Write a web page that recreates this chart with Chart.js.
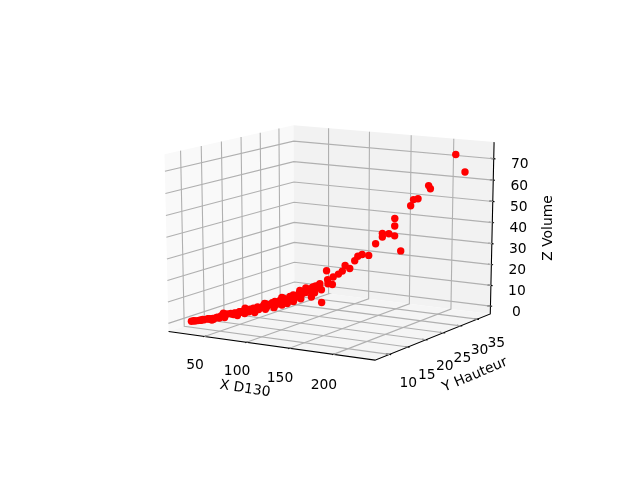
<!DOCTYPE html>
<html>
<head>
<meta charset="utf-8">
<style>body{margin:0;background:#fff}canvas{display:block}</style>
<script src="https://cdn.jsdelivr.net/npm/chart.js@4"></script>
</head>
<body>
<canvas id="chart-area" width="640" height="480"></canvas>
<script>
// values
var d130 = [27.5,28.4,30.2,31.1,32.8,33.8,34.7,36.4,37.3,39.1,40,41.7,42.6,43.5,45.3,46.1,47,48,49.7,50.6,51.5,53.3,54.2,55,56.8,57.7,58.6,60.3,61.2,62.2,63.9,64.8,66.6,67.5,68.4,70.1,71,71.9,73.7,74.5,75.4,77.2,78.1,79.8,80.8,81.7,83.4,84.3,86.1,87,87.8,89.6,90.5,92.3,93.2,94,95.9,96.7,98.5,99.3,100.3,102.2,103.2,105.1,106.1,108,109,111,112.9,113.9,115.8,
	216.2,222.9,196.1,197.4,188.4,185.2,183.2,171.4,171.4,162,167.1,171.4,162,157.5,175.8,152.4,147.2,144.3,141.9,134.9,138.2,132.9,121.2,117.5,129.6,126,122.4,116.3,111.3,110.2,104,
	40.4,58.8,65.2,72.5,79.8,86.3,92.7,96.3,100,105,90.8,77.1,63.4,49.6,108,103,118,122,125,112];
var hauteur = [7.6,8,7.9,8.4,8.6,9.1,8.5,8.9,9.6,9.8,9.4,10,10.7,9.8,10.5,11.2,10.5,11.5,11.3,11.7,10.9,12.1,11.9,12.4,12.5,12,12.8,13,12.6,13.3,13.5,12.9,13.8,14,13.5,14.3,14.2,14.7,14.6,14.9,14.5,15.4,15.7,15.6,16,15.2,16.3,16.5,16.4,16.9,16.3,17.1,17.6,17.4,18,17.4,18.2,18.6,18.5,19.05,18.4,19.24,19.82,19.72,20.1,20.3,20.68,20.8,21.25,21,21.6,
	35.5,36.6,32.8,33,31.7,31.2,30.9,29.3,29.3,28.1,28.7,29.3,28.1,27.3,30,26.6,26,25.5,25.2,24.2,24.7,23.9,22.3,21.8,23.6,23,22.4,21.6,20.9,20.7,19.9,
	10,12.6,13.1,14.1,15.3,16.1,16.8,17.4,18.2,19.05,17.2,15.7,13.6,11,19.72,19.24,21.64,22.4,23,21.16];
var volume = [1.2,1.3,1.3,1.2,1.3,1.4,1.5,1.5,1.6,1.6,1.7,1.8,1.8,1.6,2.2,2.5,1.9,2.7,2.8,3.2,2.1,3.2,3.5,2.8,3.5,3.8,3.3,4,4.3,3.5,4.3,4.6,4.1,4.9,4.1,5.3,4.8,4.9,5.9,5.3,4.9,6.4,5.8,6.9,6.4,5.9,7.4,6.5,8,7.5,6.6,8.5,7.7,9.1,8.4,7.7,9.8,9,10.4,9.8,8.8,11,10.4,11.8,11,12.6,11.6,13.2,12.8,14,14.2,
	72.4,64,58.4,56.9,52.5,52.2,49.4,43.8,40.2,37,36.7,35.6,35.3,32.3,28.3,27,27.5,26.8,24.8,22.8,21.2,20.2,20.7,5.8,18.8,17.6,14.6,14.8,13.4,8.7,11.3,
	.9,2.4,3.3,3.5,4.7,5.3,6.4,7,7.6,8.6,9.7,7.1,5.4,4,13.5,12.4,12,16.5,14,10.5];
var xTicks = [50,100,150,200];
var yTicks = [10,15,20,25,30,35];
var zTicks = [0,10,20,30,40,50,60,70];
var xLim = [6.4,246.4];
var yLim = [6.2,39];
var zLim = [-3.8,77.7];

// view of the 3d box
var elev = 14 * Math.PI / 180;
var azim = -59 * Math.PI / 180;
var dist = 10;
var n = [Math.cos(azim) * Math.cos(elev), Math.sin(azim) * Math.cos(elev), Math.sin(elev)];
var u = [-Math.sin(azim), Math.cos(azim), 0];
var v = [-n[2] * u[1], n[2] * u[0], n[0] * u[1] - n[1] * u[0]];

function project(x, y, z) {
	var q = [(x - xLim[0]) / (xLim[1] - xLim[0]) - .5, (y - yLim[0]) / (yLim[1] - yLim[0]) - .5, (z - zLim[0]) / (zLim[1] - zLim[0]) - .5];
	var w = dist - (n[0] * q[0] + n[1] * q[1] + n[2] * q[2]);
	return {
		x: (u[0] * q[0] + u[1] * q[1]) / w,
		y: (v[0] * q[0] + v[1] * q[1] + v[2] * q[2]) / w
	};
}

function line3d(points, color, width) {
	return {
		data: points.map(function (p) { return project(p[0], p[1], p[2]); }),
		showLine: true,
		borderColor: color,
		borderWidth: width,
		pointRadius: 0,
		fill: false
	};
}

var x0 = xLim[0], x1 = xLim[1], y0 = yLim[0], y1 = yLim[1], z0 = zLim[0], z1 = zLim[1];
var dx = (x1 - x0) / 12, dy = (y1 - y0) / 12;
var grid = '#b0b0b0';
var datasets = [];

// points go first so they are on top
datasets.push({
	data: d130.map(function (d, i) { return project(d, hauteur[i], volume[i]); }),
	backgroundColor: '#ff0000',
	borderWidth: 0,
	pointRadius: 3.7,
	pointHoverRadius: 3.7
});
xTicks.forEach(function (t) {
	datasets.push(line3d([[t, y0, z0], [t, y1, z0], [t, y1, z1]], grid, 1.1));
	datasets.push(line3d([[t, y0 - dy * .1, z0], [t, y0 + dy * .2, z0]], '#000', 1.1));
});
yTicks.forEach(function (t) {
	datasets.push(line3d([[x1, t, z0], [x0, t, z0], [x0, t, z1]], grid, 1.1));
	datasets.push(line3d([[x1 + dx * .1, t, z0], [x1 - dx * .2, t, z0]], '#000', 1.1));
});
zTicks.forEach(function (t) {
	datasets.push(line3d([[x1, y1, t], [x0, y1, t], [x0, y0, t]], grid, 1.1));
	datasets.push(line3d([[x1 + dx * .1, y1, t], [x1 - dx * .2, y1, t]], '#000', 1.1));
});
datasets.push(line3d([[x0, y0, z0], [x1, y0, z0], [x1, y1, z0], [x1, y1, z1]], '#000', 1.1));
datasets.forEach(function (d, i) { d.order = i === 0 ? 0 : 1; });

var boxPlugin = {
	id: 'box',
	beforeDatasetsDraw: function (chart) {
		var c = chart.ctx, sx = chart.scales.x, sy = chart.scales.y;
		function pane(corners, color) {
			c.beginPath();
			corners.forEach(function (p, i) {
				var q = project(p[0], p[1], p[2]);
				c.lineTo(sx.getPixelForValue(q.x), sy.getPixelForValue(q.y));
			});
			c.closePath();
			c.fillStyle = color;
			c.fill();
		}
		pane([[x0, y0, z0], [x0, y1, z0], [x0, y1, z1], [x0, y0, z1]], '#f9f9f9');
		pane([[x0, y1, z0], [x1, y1, z0], [x1, y1, z1], [x0, y1, z1]], '#f2f2f2');
		pane([[x0, y0, z0], [x1, y0, z0], [x1, y1, z0], [x0, y1, z0]], '#f5f5f5');
	},
	afterDatasetsDraw: function (chart) {
		var c = chart.ctx, sx = chart.scales.x, sy = chart.scales.y;
		c.save();
		c.font = '13.89px "DejaVu Sans"';
		c.fillStyle = '#000';
		c.textAlign = 'center';
		c.textBaseline = 'middle';
		function label(p, ox, oy, text) {
			var q = project(p[0], p[1], p[2]);
			c.fillText(text, sx.getPixelForValue(q.x) + ox, sy.getPixelForValue(q.y) + oy);
		}
		function title(px, py, angle, text) {
			c.save();
			c.translate(px, py);
			c.rotate(angle * Math.PI / 180);
			c.fillText(text, 0, 0);
			c.restore();
		}
		xTicks.forEach(function (t) { label([t, y0, z0], -9.5, 28.5 + (t - 50) * .02, String(t)); });
		yTicks.forEach(function (t) { label([x1, t, z0], 19, 29 - (t - 10) * .2, String(t)); });
		zTicks.forEach(function (t) { label([x1, y1, t], 26, 6, String(t)); });
		title(245, 389, 8.5, 'X D130');
		title(475, 375, -23, 'Y Hauteur');
		title(548, 228, -90, 'Z Volume');
		c.restore();
	}
};

var context = document.getElementById('chart-area').getContext('2d');
new Chart(context, {
	type: 'scatter',
	data: { datasets: datasets },
	plugins: [boxPlugin],
	options: {
		responsive: false,
		animation: false,
		events: [],
		plugins: { legend: { display: false }, tooltip: { enabled: false } },
		scales: {
			x: { display: false, min: -332.2 / 2400, max: (640 - 332.2) / 2400 },
			y: { display: false, min: (236.3 - 480) / 1826, max: 236.3 / 1826 }
		}
	}
});
</script>
</body>
</html>
